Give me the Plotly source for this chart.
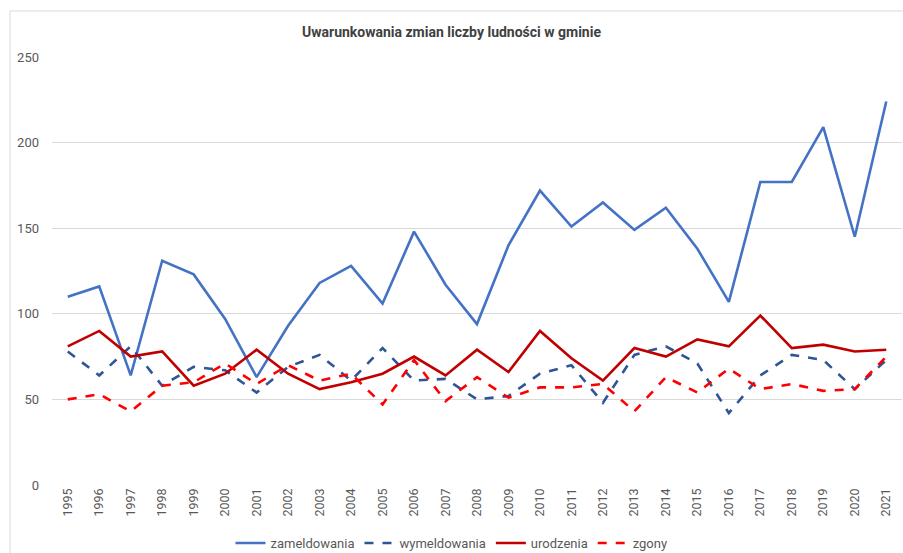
import plotly.graph_objects as go

years = [str(y) for y in range(1995, 2022)]
zameldowania = [110, 116, 64, 131, 123, 97, 63, 93, 118, 128, 106, 148, 117, 94, 140,
                172, 151, 165, 149, 162, 138, 107, 177, 177, 209, 145, 224]
wymeldowania = [78, 64, 81, 58, 69, 67, 54, 69, 76, 61, 80, 61, 62, 50, 52,
                65, 70, 48, 76, 81, 71, 42, 64, 76, 73, 56, 73]
urodzenia = [81, 90, 75, 78, 58, 65, 79, 65, 56, 60, 65, 75, 64, 79, 66,
             90, 74, 61, 80, 75, 85, 81, 99, 80, 82, 78, 79]
zgony = [50, 53, 43, 58, 60, 71, 59, 70, 61, 65, 47, 73, 49, 63, 51,
         57, 57, 59, 43, 63, 54, 68, 56, 59, 55, 56, 75]

FONT = "Roboto, Liberation Sans, sans-serif"

fig = go.Figure()
series = [
    ("zameldowania", zameldowania, "#4472C4", "solid"),
    ("wymeldowania", wymeldowania, "#2F5597", "dash"),
    ("urodzenia", urodzenia, "#C00000", "solid"),
    ("zgony", zgony, "#FF0000", "dash"),
]
for name, vals, col, dash in series:
    fig.add_trace(go.Scatter(x=years, y=vals, mode="lines", name=name,
                             line=dict(color=col, width=2.6, dash=dash)))

L, R, T, B = 52, 1, 57, 68
W, H = 903, 553
pw, ph = W - L - R, H - T - B

fig.update_layout(
    width=W, height=H,
    margin=dict(l=L, r=R, t=T, b=B, autoexpand=False),
    paper_bgcolor="white", plot_bgcolor="white",
    font=dict(family=FONT, color="#595959", size=12),
    title=dict(text="<b>Uwarunkowania zmian liczby ludności w gminie</b>",
               x=0.5, xanchor="center", y=1 - 32 / H, yanchor="middle",
               font=dict(family=FONT, size=14, color="#404040")),
    showlegend=True,
    legend=dict(orientation="h", x=0.5, xanchor="center", xref="container",
                y=(H - 543) / H, yref="container",
                yanchor="middle", font=dict(size=13, color="#595959"),
                itemwidth=30, tracegroupgap=0),
    xaxis=dict(type="category", range=[-0.5, 26.5], tickangle=-90,
               showgrid=False, showline=False, ticks="", zeroline=False,
               automargin=False,
               tickfont=dict(size=12.5, color="#595959")),
    yaxis=dict(range=[0, 250], tickvals=[0, 50, 100, 150, 200, 250],
               showgrid=True, gridcolor="#D9D9D9", gridwidth=1,
               zeroline=False, showline=False, ticks="", automargin=False,
               tickfont=dict(size=13, color="#595959"), ticklabelstandoff=12),
    shapes=[dict(type="rect", xref="paper", yref="paper",
                 x0=(10 - L) / pw, x1=(W + 2 - L) / pw,
                 y0=-(H + 2 - T - ph) / ph, y1=1 + (T - 11) / ph,
                 line=dict(color="#D9D9D9", width=1), layer="below")],
)

fig.write_html("out.html", config={"displayModeBar": False},
               post_script="document.body.style.margin='0';document.body.style.overflow='hidden';")
